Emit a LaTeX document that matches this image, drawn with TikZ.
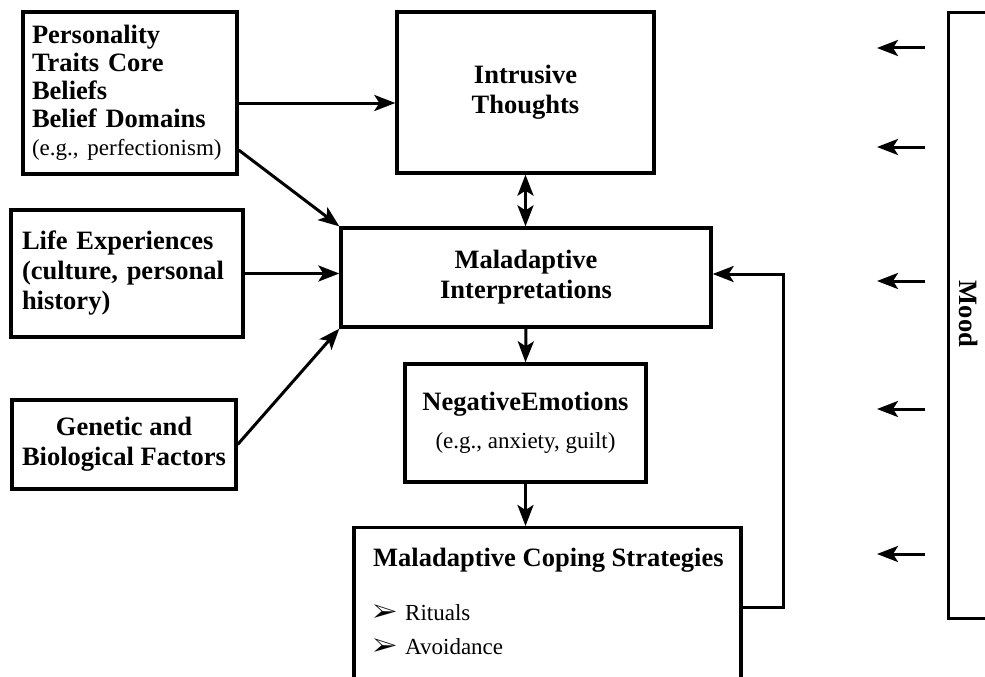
\documentclass[tikz,border=0pt]{standalone}
\usepackage{fontspec}
\setmainfont{Liberation Serif}
\usepackage{pifont}
\usetikzlibrary{arrows.meta}
\newcommand{\plaintxt}[1]{{\fontsize{23}{28}\selectfont\mdseries #1}}
\newcommand{\bulletitem}[1]{\plaintxt{\makebox[32pt][l]{\fontsize{26}{28}\selectfont\ding{226}}#1}}
\tikzset{
  >={Stealth[length=21pt,width=16pt,inset=5pt]},
  boldtxt/.style={font=\fontsize{26.5}{30}\selectfont\bfseries},
  box/.style={draw, line width=3.3pt, inner sep=0pt, boldtxt},
  arr/.style={line width=3pt, ->},
}
\begin{document}
\begin{tikzpicture}[x=1pt,y=-1pt]
  \path[use as bounding box, clip] (0,0) rectangle (985,677);
  % boxes
  \node[box, minimum width=214pt, minimum height=162pt, text width=196pt, align=left,
        font=\fontsize{26.5}{28}\selectfont\bfseries] (pers) at (130,93)
    {Personality\\Traits Core\\Beliefs\\Belief Domains\\\plaintxt{(e.g., perfectionism)}};
  \node[box, minimum width=257pt, minimum height=161pt, align=center] (intr) at (525.5,92.5)
    {Intrusive\\Thoughts};
  \node[box, minimum width=232pt, minimum height=127pt, text width=210pt, align=left] (life) at (127,273.5)
    {Life Experiences\\(culture, personal\\history)};
  \node[box, minimum width=224pt, minimum height=89pt, align=center] (gen) at (124,444.5)
    {Genetic and\\Biological Factors};
  \node[box, minimum width=370pt, minimum height=99pt, align=center] (interp) at (526,277.5)
    {Maladaptive\\Interpretations};
  \node[box, minimum width=241pt, minimum height=118pt, align=center] (neg) at (525.5,423)
    {NegativeEmotions\\[8pt]\plaintxt{(e.g., anxiety, guilt)}};
  \node[box, minimum width=387pt, minimum height=200pt, anchor=north] (cope) at (547.5,526) {};
  \node[boldtxt, anchor=north west, align=left, inner sep=0pt] (copetxt) at (373,548)
    {Maladaptive Coping Strategies\\[24pt]\bulletitem{Rituals}\\[4pt]\bulletitem{Avoidance}};
  \node[box, minimum width=80pt, minimum height=606pt, anchor=north west] (mood) at (947,11) {};
  \node[boldtxt, rotate=-90] (moodtxt) at (969,314) {Mood};
  % connectors
  \draw[arr] ([yshift=-10pt]pers.east) -- ([yshift=-10pt]pers.east -| intr.west);
  \draw[arr] ([yshift=-57pt]pers.east) -- (interp.north west);
  \draw[arr] (life.east) -- (life.east -| interp.west);
  \draw[arr] (gen.east) -- (interp.south west);
  \draw[arr, <->] (intr.south) -- (intr.south |- interp.north);
  \draw[arr] (interp.south) -- (neg.north);
  \draw[arr] (neg.south) -- (neg.south |- cope.north);
  \coordinate (fbturn) at (783,607);
  \draw[arr] (cope.east |- fbturn) -- (fbturn) |- ([yshift=3.5pt]interp.east);
  % mood arrows
  \foreach \y [count=\i] in {48,147,281,409,554} {
    \coordinate (ms\i) at (925,\y);
    \coordinate (me\i) at (877,\y);
    \draw[arr] (ms\i) -- (me\i);
  }
\end{tikzpicture}
\end{document}
